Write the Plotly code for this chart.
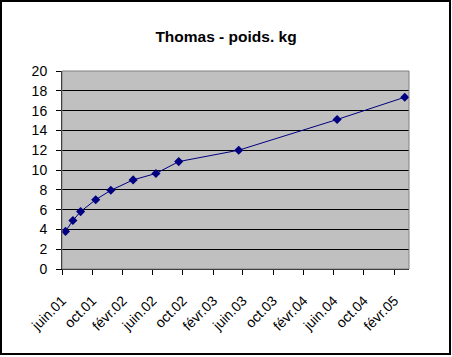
import plotly.graph_objects as go

dates = ["2001-06-15", "2001-07-15", "2001-08-15", "2001-10-15", "2001-12-15",
         "2002-03-15", "2002-06-15", "2002-09-15", "2003-05-15", "2004-06-15",
         "2005-03-15"]
poids = [3.8, 4.9, 5.8, 7.0, 7.95, 9.0, 9.65, 10.85, 12.0, 15.1, 17.35]

tick_dates = ["2001-06-01", "2001-10-01", "2002-02-01", "2002-06-01", "2002-10-01",
              "2003-02-01", "2003-06-01", "2003-10-01", "2004-02-01", "2004-06-01",
              "2004-10-01", "2005-02-01"]
tick_labels = ["juin.01", "oct.01", "févr.02", "juin.02", "oct.02", "févr.03",
               "juin.03", "oct.03", "févr.04", "juin.04", "oct.04", "févr.05"]
y_ticks = [0, 2, 4, 6, 8, 10, 12, 14, 16, 18, 20]

W, H = 452, 357
ml, mr, mt, mb = 62, 43, 71, 88

fig = go.Figure()
fig.add_trace(go.Scatter(
    x=dates, y=poids, mode="lines+markers",
    line=dict(color="#000080", width=1),
    marker=dict(symbol="diamond", size=7, color="#000080"),
    showlegend=False,
))

pw = W - ml - mr
ph = H - mt - mb
def px(x):
    return (x - ml) / pw
def py(y):
    return (H - mb - y) / ph

fig.update_layout(
    width=W, height=H,
    margin=dict(l=ml, r=mr, t=mt, b=mb, autoexpand=False),
    paper_bgcolor="white",
    plot_bgcolor="#C0C0C0",
    font=dict(family="Liberation Sans, Arial, sans-serif", size=14, color="black"),
    title=dict(text="<b>Thomas - poids. kg</b>", x=0.5, xanchor="center",
               y=1 - 37 / H, yanchor="middle", font=dict(size=15.5)),
    xaxis=dict(
        type="date", range=["2001-06-01", "2005-04-01"],
        tickmode="array", tickvals=tick_dates, ticktext=tick_labels,
        tickangle=-45, ticks="outside", ticklen=5, tickcolor="black",
        showgrid=False, showline=True, linecolor="black", linewidth=1,
        zeroline=False, automargin=False, ticklabelstandoff=12,
    ),
    yaxis=dict(
        range=[0, 20], tickmode="array", tickvals=y_ticks,
        ticks="outside", ticklen=5, tickcolor="black",
        showgrid=True, gridcolor="black", gridwidth=1,
        showline=True, linecolor="black", linewidth=1,
        zeroline=False, ticklabelstandoff=6, automargin=False,
    ),
    shapes=[
        dict(type="rect", xref="paper", yref="paper",
             x0=0, x1=1, y0=0, y1=1, line=dict(color="#808080", width=1),
             layer="above"),
        dict(type="rect", xref="paper", yref="paper",
             x0=px(1), x1=px(450), y0=py(1), y1=py(354),
             line=dict(color="black", width=2), layer="above"),
    ],
)

fig.write_html("out.html", config={"displayModeBar": False},
               post_script="document.body.style.margin='0';")
